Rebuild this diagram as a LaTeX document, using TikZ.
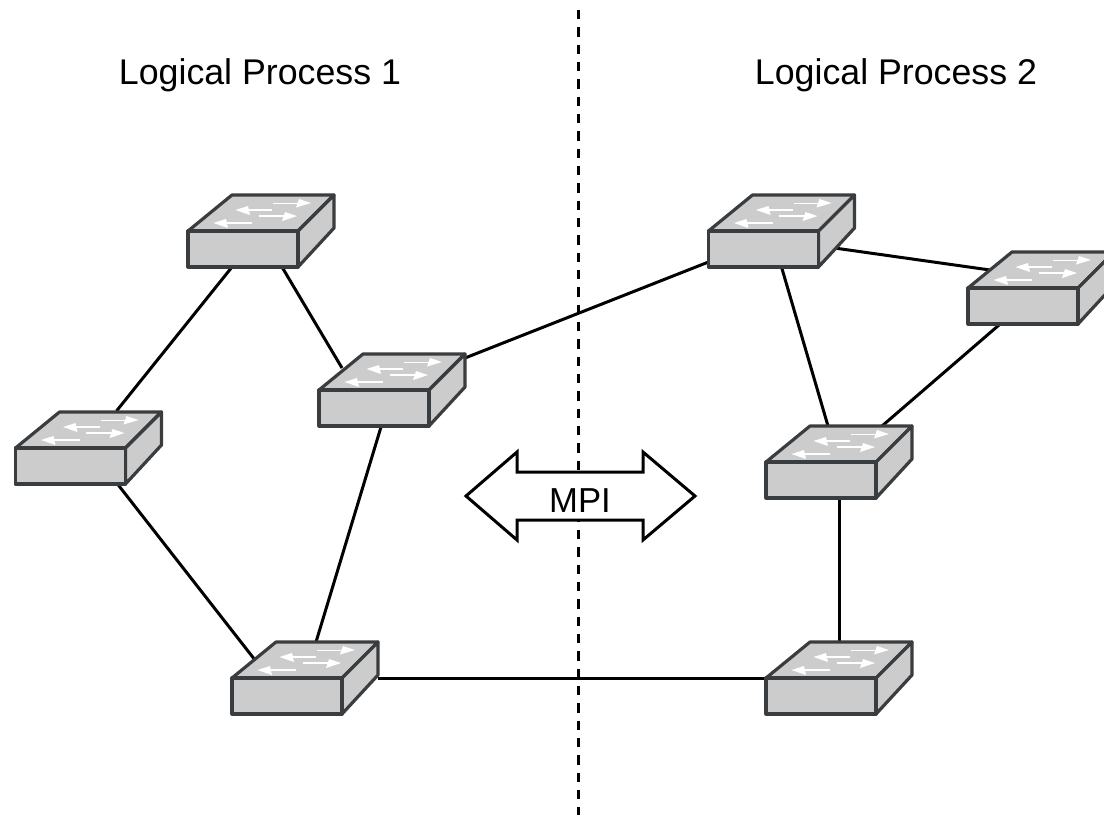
\documentclass[tikz,border=0pt]{standalone}
\usepackage{fontspec}
\setmainfont{Liberation Sans}
\usetikzlibrary{backgrounds}
\definecolor{swedge}{HTML}{3A3D40}
\definecolor{swfill}{HTML}{CCCCCC}
\tikzset{
  x=0.75pt,y=-0.75pt,
  swface/.style={draw=swedge,fill=swfill,line width=2.4pt,line join=round},
  swfront/.style={swface,rectangle,minimum width=82.5pt,minimum height=27pt,inner sep=0pt,outer sep=0pt},
  flow/.style={fill=white,draw=none},
  link/.style={draw=black,line width=2.25pt},
  divider/.style={draw=black,line width=2.25pt,dash pattern=on 7pt off 6pt},
  mpiarrow/.style={draw=black,fill=white,line width=2.25pt,line join=miter},
  label/.style={font=\fontsize{26.8pt}{30pt}\selectfont,inner sep=0pt},
  mpilabel/.style={font=\fontsize{26pt}{30pt}\selectfont,inner sep=0pt},
  switch/.pic={
    \path[swface] (0,0) -- (44,-36) -- (146,-36) -- (110,0) -- cycle;
    \path[swface] (110,0) -- (146,-36) -- (146,-3) -- (110,36) -- cycle;
    \node[swfront] (box) at (55,18) {};
    \path[flow] (85,-28.5) rectangle (112,-27);
    \path[flow] (123,-28) -- (111,-32) -- (108,-23.5) -- cycle;
    \path[flow] (58,-21.7) rectangle (84,-20.2);
    \path[flow] (47.5,-21) -- (60,-25) -- (62,-16) -- cycle;
    \path[flow] (70.5,-15.7) rectangle (98,-14.2);
    \path[flow] (109,-15) -- (97,-19) -- (94,-10) -- cycle;
    \path[flow] (37,-8.7) rectangle (64,-7.2);
    \path[flow] (25.5,-8) -- (38,-12) -- (40,-3) -- cycle;
  }
}
\begin{document}
\begin{tikzpicture}
\useasboundingbox (0,0) rectangle (1104,815);
\coordinate (divtop) at (578,10);
\coordinate (divbot) at (578,815);
\draw[divider] (divtop) -- (divbot);

\pic (a) at (188,231) {switch};
\pic (b) at (319,390) {switch};
\pic (c) at (15.5,448) {switch};
\pic (d) at (232,678) {switch};
\pic (e) at (708.5,231) {switch};
\pic (f) at (968,288) {switch};
\pic (g) at (766,462) {switch};
\pic (h) at (766,678) {switch};

\begin{scope}[on background layer]
\draw[link] ([shift={(-11,18)}]abox.center) -- ([shift={(46,-55)}]cbox.center);
\draw[link] ([shift={(39,18)}]abox.center) -- ([shift={(-32,-40)}]bbox.center);
\draw[link] ([shift={(91,-50)}]bbox.center) -- ([shift={(-55,13)}]ebox.center);
\draw[link] ([shift={(7,19)}]bbox.center) -- ([shift={(29,-54)}]dbox.center);
\draw[link] ([shift={(47,18)}]cbox.center) -- ([shift={(-32,-36)}]dbox.center);
\draw[link] ([shift={(91,-18)}]dbox.center) -- ([shift={(-55,-18)}]hbox.center);
\draw[link] ([shift={(71,-1)}]ebox.center) -- ([shift={(-33,-36)}]fbox.center);
\draw[link] ([shift={(18,18)}]ebox.center) -- ([shift={(7,-54)}]gbox.center);
\draw[link] ([shift={(-24,19)}]fbox.center) -- ([shift={(61,-54)}]gbox.center);
\draw[link] ([shift={(18,18)}]gbox.center) -- ([shift={(18,-54)}]hbox.center);
\end{scope}

\path[mpiarrow] (466,496) -- (517,452) -- (517,472) -- (643,472) -- (643,452) -- (695,496) -- (643,540) -- (643,520) -- (517,520) -- (517,540) -- cycle;
\node[mpilabel] (mpi) at (580,501) {MPI};
\node[label] (lp1) at (260,75) {Logical Process 1};
\node[label] (lp2) at (896,75) {Logical Process 2};
\end{tikzpicture}
\end{document}
